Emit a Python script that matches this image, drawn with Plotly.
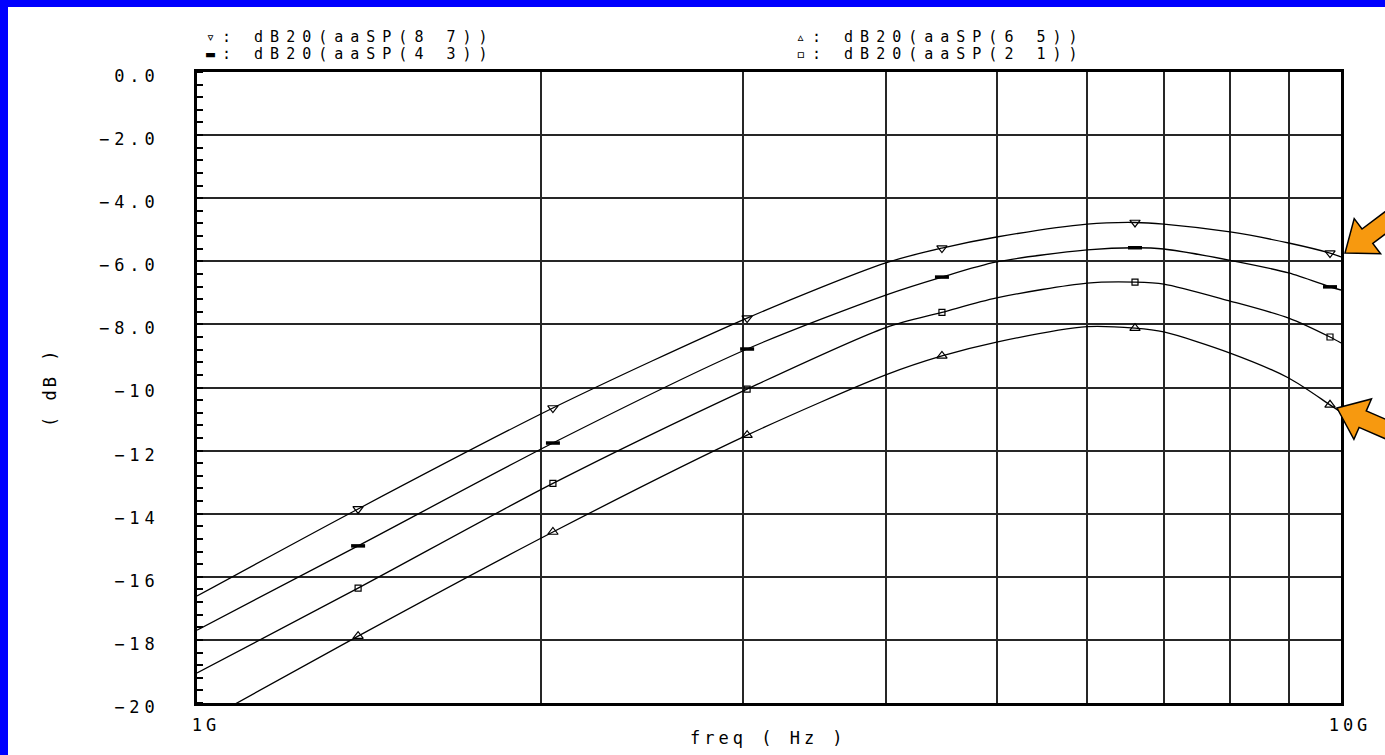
import math
import plotly.graph_objects as go

# Frequencies (GHz) where the S-parameter magnitudes were sampled
freq_ghz = [1.0, 1.383, 2.047, 3.026, 4.0, 4.479, 5.0, 6.0, 6.606, 7.0, 8.0, 9.0, 9.781, 10.0]

# dB20 of the transfer terms, one list per port pair
sp87_db = [-16.61, -13.85, -10.65, -7.80, -6.05, -5.58, -5.23, -4.82, -4.77, -4.82, -5.07, -5.42, -5.74, -5.86]
sp43_db = [-17.69, -15.02, -11.76, -8.78, -7.07, -6.50, -6.02, -5.64, -5.57, -5.61, -5.97, -6.37, -6.81, -6.91]
sp21_db = [-19.05, -16.36, -13.04, -10.05, -8.10, -7.62, -7.16, -6.69, -6.66, -6.72, -7.26, -7.80, -8.40, -8.59]
sp65_db = [-20.70, -17.88, -14.58, -11.51, -9.60, -9.00, -8.56, -8.07, -8.12, -8.24, -8.91, -9.70, -10.55, -10.78]

# Frequencies carrying a symbol on each curve
marker_freq_ghz = [1.383, 2.047, 3.026, 4.479, 6.606, 9.781]

series_names = ["dB20(aaSP(8 7))", "dB20(aaSP(4 3))", "dB20(aaSP(6 5))", "dB20(aaSP(2 1))"]
series_glyphs = ["▿", "▬", "▵", "▫"]

y_tick_vals = [0, -2, -4, -6, -8, -10, -12, -14, -16, -18, -20]
y_tick_text = ["0.0", "−2.0", "−4.0", "−6.0", "−8.0", "−10", "−12", "−14", "−16", "−18", "−20"]
x_tick_vals = [1, 2, 3, 4, 5, 6, 7, 8, 9, 10]
x_tick_text = ["1G", "", "", "", "", "", "", "", "", "10G"]

W, H = 1385, 755
PL, PR, PT, PB = 197, 1341, 72, 703
FONT = "DejaVu Sans Mono"


def px(x):
    return (x - PL) / (PR - PL)


def py(y):
    return (PB - y) / (PB - PT)


def spaced(text, gap=6):
    return f'<span style="letter-spacing:{gap}px">{text}</span>'


curves = [
    (sp87_db, "triangle-down-open", 9, 1.2),
    (sp43_db, "line-ew-open", 10, 3.5),
    (sp65_db, "triangle-up-open", 9, 1.2),
    (sp21_db, "square-open", 6, 1.2),
]

fig = go.Figure()
for (vals, sym, size, lw), name in zip(curves, series_names):
    fig.add_trace(go.Scatter(
        x=freq_ghz, y=vals, mode="lines", name=name,
        line=dict(color="black", width=1.3, shape="spline", smoothing=0.8),
        hoverinfo="skip", showlegend=False,
    ))
    mk_y = [vals[freq_ghz.index(f)] for f in marker_freq_ghz]
    fig.add_trace(go.Scatter(
        x=marker_freq_ghz, y=mk_y, mode="markers", name=name,
        marker=dict(symbol=sym, size=size, color="black", line=dict(width=lw, color="black")),
        showlegend=False,
    ))

annotations = []
# legend block above the plot
legend_pos = [(204, 36.5), (204, 54), (794, 36.5), (794, 54)]
for (lx, ly), g, name in zip(legend_pos, series_glyphs, series_names):
    annotations.append(dict(
        x=px(lx), y=py(ly), xref="paper", yref="paper", xanchor="left", yanchor="middle",
        text=spaced(f"{g}: {name}", 7), showarrow=False,
        font=dict(family=FONT, size=15, color="black"),
    ))
# axis titles
annotations.append(dict(
    x=px(50), y=py(388), xref="paper", yref="paper", xanchor="center", yanchor="middle",
    text=spaced("( dB )", 3), textangle=-90, showarrow=False,
    font=dict(family=FONT, size=17, color="black"),
))
annotations.append(dict(
    x=px(768), y=py(738), xref="paper", yref="paper", xanchor="center", yanchor="middle",
    text=spaced("freq ( Hz )", 4), showarrow=False,
    font=dict(family=FONT, size=17, color="black"),
))


def arrow_path(tip, d, head_len=28, head_half=22, shaft_half=9, length=95):
    dx, dy = d
    n = math.hypot(dx, dy)
    dx, dy = dx / n, dy / n
    nx, ny = -dy, dx
    tx, ty = tip
    bx, by = tx + head_len * dx, ty + head_len * dy
    ex, ey = tx + length * dx, ty + length * dy
    pts = [
        (tx, ty),
        (bx + head_half * nx, by + head_half * ny),
        (bx + shaft_half * nx, by + shaft_half * ny),
        (ex + shaft_half * nx, ey + shaft_half * ny),
        (ex - shaft_half * nx, ey - shaft_half * ny),
        (bx - shaft_half * nx, by - shaft_half * ny),
        (bx - head_half * nx, by - head_half * ny),
    ]
    return "M " + " L ".join(f"{px(x):.5f},{py(y):.5f}" for x, y in pts) + " Z"


shapes = [
    # blue frame strips (top and left)
    dict(type="rect", xref="paper", yref="paper", x0=px(0), x1=px(W), y0=py(7), y1=py(0),
         fillcolor="#0000FF", line=dict(width=0), layer="above"),
    dict(type="rect", xref="paper", yref="paper", x0=px(0), x1=px(8), y0=py(H), y1=py(0),
         fillcolor="#0000FF", line=dict(width=0), layer="above"),
    # callout arrows
    dict(type="path", xref="paper", yref="paper", path=arrow_path((1345, 253), (0.80, -0.60)),
         fillcolor="#F7990F", line=dict(color="black", width=1.5), layer="above"),
    dict(type="path", xref="paper", yref="paper", path=arrow_path((1337, 408), (0.92, 0.40)),
         fillcolor="#F7990F", line=dict(color="black", width=1.5), layer="above"),
]

fig.update_layout(
    width=W, height=H, autosize=False,
    margin=dict(l=PL, r=W - PR, t=PT, b=H - PB, pad=0),
    paper_bgcolor="white", plot_bgcolor="white",
    font=dict(family=FONT, size=17, color="black"),
    showlegend=False,
    annotations=annotations,
    shapes=shapes,
)
fig.update_xaxes(
    type="log", range=[0, 1],
    tickvals=x_tick_vals, ticktext=[spaced(t, 4) for t in x_tick_text],
    ticks="", showgrid=True, gridcolor="#262626", gridwidth=1.8,
    showline=True, linecolor="black", linewidth=2.5, mirror=True,
    zeroline=False, ticklabelstandoff=5, ticklabelshift=9,
    tickfont=dict(family=FONT, size=17, color="black"),
)
fig.update_yaxes(
    range=[-20, 0],
    tickvals=y_tick_vals, ticktext=[spaced(t, 5) for t in y_tick_text],
    ticks="", showgrid=True, gridcolor="#262626", gridwidth=1.8,
    showline=True, linecolor="black", linewidth=2.5, mirror=True,
    zeroline=False, ticklabelstandoff=31, ticklabelshift=4,
    minor=dict(dtick=0.4, ticks="inside", ticklen=6, tickwidth=1.5, tickcolor="black", showgrid=False),
    tickfont=dict(family=FONT, size=17, color="black"),
)

fig.write_html("out.html")
